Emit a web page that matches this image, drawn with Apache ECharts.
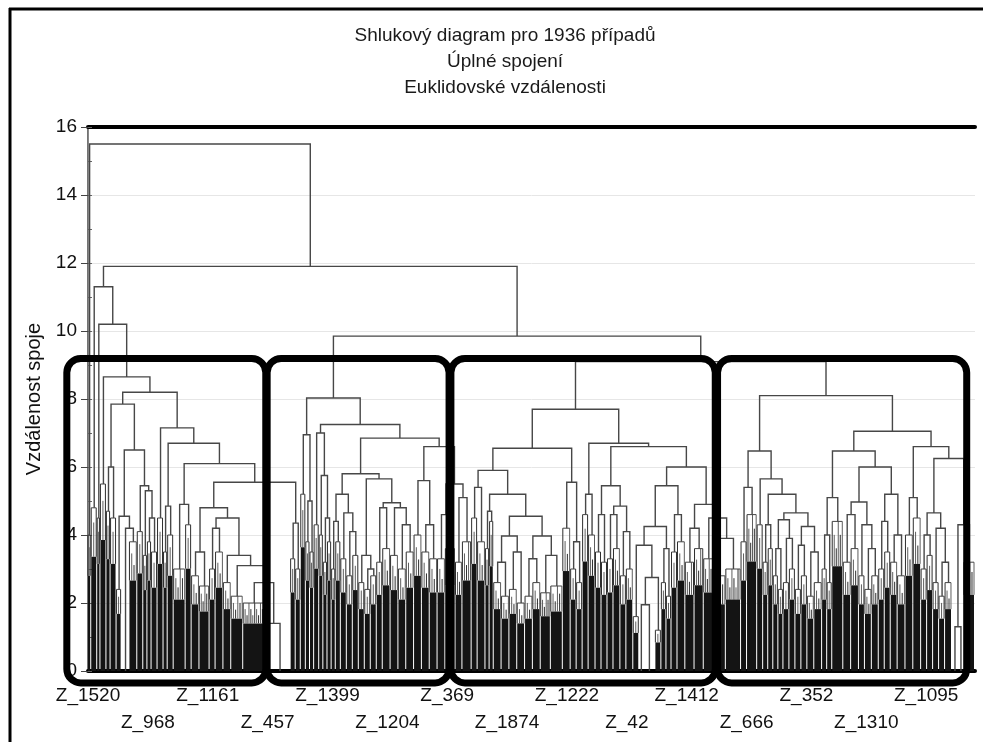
<!DOCTYPE html>
<html><head><meta charset="utf-8">
<script src="https://cdn.jsdelivr.net/npm/echarts@6/dist/echarts.min.js"></script>
<style>html,body{margin:0;padding:0;background:#fff}#c{width:983px;height:742px}</style>
</head><body><div id="c"></div>
<script>
// ---------- DATA ----------
// x tick labels (every 130th case), staggered in two rows
const tickLabels = ['Z_1520','Z_968','Z_1161','Z_457','Z_1399','Z_1204','Z_369','Z_1874','Z_1222','Z_42','Z_1412','Z_666','Z_352','Z_1310','Z_1095'];
const tickStep = 130;
// Tree notation: leaf cluster = [cases, height of its dense low part]; merge = [linkage distance, left, right]
const leftOutliers = [[7, 4.0], [13, 4.8], [7, 4.5], [13, 5.5]];
const topMerges = [15.5, 11.9, 11.3, 10.2, 8.65, 9.85, 9.1];

const cluster1 = [8.2,
  [7.85,
    [6.0, [9, 4.7], [13, 4.5]],
    [6.5,
      [4.55, [11, 2.4], [4.2, [17, 0], [17, 3.8]]],
      [5.45, [13, 4.1], [5.3, [9, 3.4], [4.5, [9, 3.8], [13, 3.5]]]]]],
  [7.15,
    [13, 4.5],
    [6.7,
      [4.85, [9, 3.5], [13, 4.0]],
      [6.1,
        [4.9, [26, 3.0], [13, 4.3]],
        [5.55,
          [4.8,
            [3.5, [17, 2.8], [22, 2.5]],
            [4.5,
              [4.2, [13, 3.0], [17, 3.5]],
              [3.4, [17, 2.6], [3.1, [26, 2.2], [2.6, [48, 2.0], [1.4, [9, 0], [46, 0]]]]]]],
          [4.35, [11, 3.3], [11, 3.0]]]]]]];

const cluster2 = [8.03,
  [6.95, [11, 5.2], [5.0, [9, 3.8], [9, 3.5]]],
  [7.25,
    [7.0, [11, 4.3], [5.75, [9, 4.0], [4.5, [9, 3.2], [9, 3.8]]]],
    [6.85,
      [5.8,
        [5.2, [4.4, [9, 3.0], [11, 3.8]], [4.65, [13, 3.3], [4.1, [13, 2.8], [13, 3.4]]]],
        [5.65,
          [3.4, [13, 2.6], [3.0, [13, 2.4], [13, 2.8]]],
          [4.95, [4.8, [13, 3.2], [17, 3.6]], [4.8, [17, 3.4], [4.3, [17, 3.0], [17, 3.5]]]]]],
      [6.6,
        [5.6, [17, 4.0], [4.3, [17, 3.5], [17, 3.3]]],
        [5.5, [4.6, [17, 3.3], [22, 3.6]], [5.1, [15, 3.2], [20, 3.8]]]]]]];

const cluster3 = [7.7,
  [6.55,
    [5.9,
      [5.4, [13, 4.5], [17, 3.8]],
      [5.2,
        [4.7, [9, 3.6], [9, 4.4]],
        [4.55,
          [3.97, [3.2, [17, 2.6], [17, 2.2]], [3.5, [17, 2.4], [17, 2.0]]],
          [3.97, [3.3, [17, 2.2], [17, 2.6]], [3.4, [22, 2.3], [26, 2.5]]]]]],
    [5.55, [17, 4.2], [3.8, [13, 3.0], [13, 2.6]]]],
  [6.7,
    [5.2, [13, 4.6], [15, 4.0]],
    [6.6,
      [5.45,
        [4.6, [13, 3.5], [13, 3.2]],
        [4.85, [4.6, [13, 3.3], [15, 3.6]], [4.1, [13, 2.8], [15, 3.0]]]],
      [6.0,
        [5.45,
          [4.25,
            [3.7, [13, 1.6], [2.75, [1.95, [9, 0], [26, 0]], [13, 1.2]]],
            [3.6, [11, 2.6], [11, 2.2]]],
          [4.6, [13, 3.5], [17, 3.8]]],
        [4.9, [4.2, [20, 3.2], [20, 3.6]], [4.5, [22, 3.3], [3.9, [26, 2.8], [33, 3.0]]]]]]]];

const cluster4 = [8.1,
  [6.47,
    [5.4, [13, 3.8], [22, 4.6]],
    [5.65,
      [13, 4.3],
      [5.2,
        [4.3, [11, 3.2], [11, 3.6]],
        [4.65,
          [4.45, [3.6, [11, 2.8], [11, 2.4]], [3.9, [13, 2.6], [13, 3.0]]],
          [4.25, [3.7, [13, 2.4], [13, 2.8]], [3.5, [15, 2.2], [17, 2.6]]]]]]],
  [7.05,
    [6.47,
      [5.1, [4.0, [11, 3.0], [11, 2.6]], [24, 4.4]],
      [6.0,
        [4.97, [4.6, [17, 3.2], [17, 3.6]], [4.3, [13, 2.8], [3.6, [15, 2.4], [15, 2.8]]]],
        [5.2, [4.4, [13, 3.0], [13, 3.5]], [4.0, [15, 3.2], [17, 2.8]]]]],
    [6.6,
      [5.1, [17, 4.0], [17, 4.5]],
      [6.25,
        [4.65, [4.0, [13, 3.0], [13, 3.4]], [4.2, [13, 2.6], [3.2, [13, 2.2], [15, 2.6]]]],
        [4.3, [1.3, [13, 0], [13, 0]], [24, 3.2]]]]]];

// annotation boxes around the four groups: [fromCase, toCase, fromDist, toDist]
const groupBoxes = [[-46, 386, -0.35, 9.19], [389, 784, -0.35, 9.19], [788, 1362, -0.35, 9.19], [1367, 1908, -0.35, 9.19]];

// ---------- TREE ASSEMBLY ----------
const [h0, h1, h2, h3, h4, h5, h6] = topMerges;
const tree = [h0, leftOutliers[0],
  [h1,
    [h2, leftOutliers[1], [h3, leftOutliers[2], [h4, leftOutliers[3], cluster1]]],
    [h5, cluster2, [h6, cluster3, cluster4]]]];

let cursor = 0;
const links = [], leaves = [];
function layout(node) {
  if (node.length === 2) {
    const x0 = cursor; cursor += node[0];
    leaves.push([x0, cursor, node[1]]);
    return { x: (x0 + cursor) / 2, y: node[1] };
  }
  const A = layout(node[1]), B = layout(node[2]);
  links.push([A.x, B.x, node[0], A.y, B.y]);
  return { x: (A.x + B.x) / 2, y: node[0] };
}
layout(tree);
const totalCases = cursor;

// ---------- CHART ----------
const chart = echarts.init(document.getElementById('c'), null, { renderer: 'canvas' });
const FONT = 'Liberation Sans, Arial, sans-serif';

function renderLeaf(params, api) {
  const x0 = api.value(0), x1 = api.value(1), h = api.value(2);
  if (h <= 0) return null;
  const pb = api.coord([x0, 0]), pe = api.coord([x1, h]);
  const pm = api.coord([x0, h * 0.7]);
  const w = Math.max(1, pe[0] - pb[0] - 1);
  const kids = [
    { type: 'rect', shape: { x: pb[0], y: pm[1], width: w, height: pb[1] - pm[1] }, style: { fill: '#141414' } }
  ];
  // hatched upper part: thin vertical strokes of the densely packed low-level links
  const n = Math.max(2, Math.round(w / 2));
  for (let k = 0; k <= n; k++) {
    const xx = pb[0] + (w * k) / n;
    const top = (k === 0 || k === n) ? pe[1] : pe[1] + (pm[1] - pe[1]) * ((k % 3) * 0.3);
    kids.push({ type: 'line', shape: { x1: xx, y1: pm[1], x2: xx, y2: top },
      style: { stroke: k % 2 ? '#5e5e5e' : '#2e2e2e', lineWidth: 1 } });
  }
  kids.push({ type: 'line', shape: { x1: pb[0], y1: pe[1], x2: pb[0] + w, y2: pe[1] }, style: { stroke: '#454545', lineWidth: 1 } });
  return { type: 'group', children: kids };
}
function renderLink(params, api) {
  const xa = api.value(0), xb = api.value(1), h = api.value(2), ya = api.value(3), yb = api.value(4);
  const p1 = api.coord([xa, ya]), p2 = api.coord([xa, h]), p3 = api.coord([xb, h]), p4 = api.coord([xb, yb]);
  return { type: 'polyline', shape: { points: [p1, p2, p3, p4] },
    style: { stroke: '#474747', lineWidth: 1.4, fill: null } };
}
function renderBox(params, api) {
  const a = api.coord([api.value(0), api.value(3)]), b = api.coord([api.value(1), api.value(2)]);
  return { type: 'rect', shape: { x: a[0], y: a[1], width: b[0] - a[0], height: b[1] - a[1], r: 14 },
    style: { fill: null, stroke: '#000', lineWidth: 7 }, z2: 100 };
}

chart.setOption({
  backgroundColor: '#ffffff',
  animation: false,
  title: {
    text: 'Shlukový diagram pro 1936 případů\nÚplné spojení\nEuklidovské vzdálenosti',
    left: 500, top: 18, textAlign: 'center',
    textStyle: { fontFamily: FONT, fontSize: 19, fontWeight: 'normal', color: '#1a1a1a', lineHeight: 26, align: 'center' }
  },
  grid: { left: 88, right: 8, top: 127, bottom: 71, show: true, backgroundColor: '#fff', borderWidth: 0 },
  xAxis: [{
    type: 'value', min: 0, max: totalCases, interval: tickStep, position: 'bottom',
    axisLine: { show: true, onZero: false, lineStyle: { color: '#000', width: 4 } },
    axisTick: { show: false }, splitLine: { show: false },
    axisLabel: {
      fontFamily: FONT, fontSize: 19, color: '#111', margin: 11, lineHeight: 27,
      formatter: function (v) {
        const i = Math.round(v / tickStep);
        if (Math.abs(v - i * tickStep) > 0.01 || i >= tickLabels.length) return '';
        return (i % 2 ? '\n' : '') + tickLabels[i];
      }
    }
  }, {
    type: 'value', min: 0, max: totalCases, position: 'top',
    axisLine: { show: true, onZero: false, lineStyle: { color: '#000', width: 4 } },
    axisTick: { show: false }, axisLabel: { show: false }, splitLine: { show: false }
  }],
  yAxis: [{
    type: 'value', min: 0, max: 16, interval: 2, position: 'left',
    name: 'Vzdálenost spoje', nameLocation: 'middle', nameGap: 43,
    nameTextStyle: { fontFamily: FONT, fontSize: 20, color: '#111' },
    axisLine: { show: true, lineStyle: { color: '#444', width: 1.5 } },
    axisTick: { show: true, length: 7, lineStyle: { color: '#444' } },
    axisLabel: { fontFamily: FONT, fontSize: 19, color: '#111', margin: 11 },
    splitLine: { show: true, lineStyle: { color: '#e6e6e6', width: 1 } }
  }, {
    type: 'value', min: 0, max: 16, interval: 1, position: 'right',
    axisLine: { show: true, lineStyle: { color: '#888', width: 1 } },
    axisTick: { show: true, length: 4, lineStyle: { color: '#666' } },
    axisLabel: { show: false }, splitLine: { show: false }
  }],
  graphic: [
    { type: 'line', shape: { x1: 10, y1: 8, x2: 10, y2: 742 }, style: { stroke: '#000', lineWidth: 3 } },
    { type: 'line', shape: { x1: 9, y1: 9, x2: 983, y2: 9 }, style: { stroke: '#000', lineWidth: 3 } }
  ],
  series: [
    { type: 'custom', name: 'leaves', renderItem: renderLeaf, data: leaves, z: 2, silent: true },
    { type: 'custom', name: 'links', renderItem: renderLink, data: links, z: 3, silent: true },
    { type: 'custom', name: 'groups', renderItem: renderBox, data: groupBoxes, z: 10, clip: false, silent: true }
  ]
});
</script>
</body></html>
